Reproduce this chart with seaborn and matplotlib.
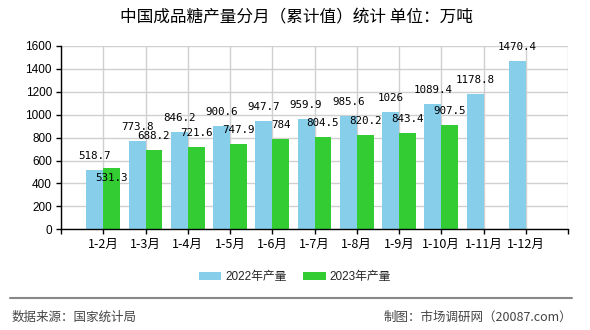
import numpy as np
import pandas as pd
import matplotlib
matplotlib.use("Agg")
import matplotlib.pyplot as plt
from matplotlib.patches import Patch
from matplotlib.lines import Line2D
import seaborn as sns

# Cumulative monthly output of refined sugar in China (10k tonnes)
periods = ["1-2月", "1-3月", "1-4月", "1-5月", "1-6月", "1-7月",
           "1-8月", "1-9月", "1-10月", "1-11月", "1-12月"]
output_2022 = [518.7, 773.8, 846.2, 900.6, 947.7, 959.9, 985.6, 1026, 1089.4, 1178.8, 1470.4]
output_2023 = [531.3, 688.2, 721.6, 747.9, 784, 804.5, 820.2, 843.4, 907.5, np.nan, np.nan]
series_names = ["2022年产量", "2023年产量"]
y_ticks = [0, 200, 400, 600, 800, 1000, 1200, 1400, 1600]

title = "中国成品糖产量分月（累计值）统计 单位：万吨"
source_text = "数据来源：国家统计局"
credit_text = "制图：市场调研网（20087.com）"

colors = ["#87CEEB", "#33CC33"]

sns.set_theme(style="white")
plt.rcParams["font.family"] = ["Liberation Sans", "Noto Sans CJK SC", "DejaVu Sans"]

df = pd.DataFrame({
    "period": periods * 2,
    "value": output_2022 + output_2023,
    "series": [series_names[0]] * len(periods) + [series_names[1]] * len(periods),
})

fig = plt.figure(figsize=(5.9, 3.3), dpi=100)
ax = fig.add_axes([61 / 590, 1 - 229.3 / 330, (568 - 61) / 590, (229.3 - 46) / 330])

sns.barplot(data=df, x="period", y="value", hue="series", order=periods,
            hue_order=series_names, palette=colors, width=0.8, saturation=1,
            dodge=True, legend=False, ax=ax, linewidth=0, errorbar=None)

ax.set_xlim(-1, len(periods))
ax.set_ylim(0, 1600)
ax.set_yticks(y_ticks)
ax.set_yticklabels([str(t) for t in y_ticks], fontsize=8.5, color="black")
ax.set_xticks(range(-1, len(periods) + 1))
ax.set_xticklabels([""] + periods + [""], fontsize=9, color="black",
                   family=["Noto Sans CJK SC", "DejaVu Sans"])
ax.set_xlabel("")
ax.set_ylabel("")

ax.grid(True, color="#d0d0d0", linewidth=1)
ax.set_axisbelow(True)
for side in ("top", "right"):
    ax.spines[side].set_visible(False)
for side in ("left", "bottom"):
    ax.spines[side].set_color("black")
    ax.spines[side].set_linewidth(1)
ax.tick_params(axis="both", which="major", direction="out", length=3.5,
               width=1, color="black", left=True, bottom=True)
ax.tick_params(axis="y", pad=3)
ax.tick_params(axis="x", pad=3)

# Value labels above bars; pixel scale used to keep neighbours apart
units_per_px = 1600 / 183.3
gap = 9 * units_per_px
label_h = 8 * units_per_px
label_font = dict(fontsize=7.8, family="DejaVu Sans Mono", color="black")

for i, (a, b) in enumerate(zip(output_2022, output_2023)):
    xa, xb = i - 0.2, i + 0.2
    ax.text(xa, a + gap, f"{a:g}", ha="center", va="bottom", **label_font)
    if not np.isnan(b):
        if abs(b - a) < label_h:
            ax.text(xb, a - 3 * units_per_px, f"{b:g}", ha="center", va="top", **label_font)
        else:
            ax.text(xb, b + gap, f"{b:g}", ha="center", va="bottom", **label_font)

fig.text(0.502, 1 - 18 / 330, title, ha="center", va="center", fontsize=12,
         family=["Noto Sans CJK SC", "DejaVu Sans"], color="black")

handles = [Patch(facecolor=c, edgecolor="none") for c in colors]
fig.legend(handles, series_names, loc="center", bbox_to_anchor=(0.5, 1 - 277 / 330),
           ncol=2, frameon=False, handlelength=1.9, handleheight=0.75,
           handletextpad=0.35, columnspacing=1.4,
           prop={"family": ["Liberation Sans", "Noto Sans CJK SC"], "size": 8.5})

fig.add_artist(Line2D([10 / 590, 572 / 590], [1 - 298 / 330] * 2,
                      transform=fig.transFigure, color="#888888", linewidth=1.5))
fig.text(12 / 590, 1 - 317 / 330, source_text, ha="left", va="center", fontsize=9,
         family=["Noto Sans CJK SC", "DejaVu Sans"], color="#444444")
fig.text(572 / 590, 1 - 317 / 330, credit_text, ha="right", va="center", fontsize=9,
         family=["Noto Sans CJK SC", "DejaVu Sans"], color="#444444")

fig.savefig("out.png", dpi=100)
